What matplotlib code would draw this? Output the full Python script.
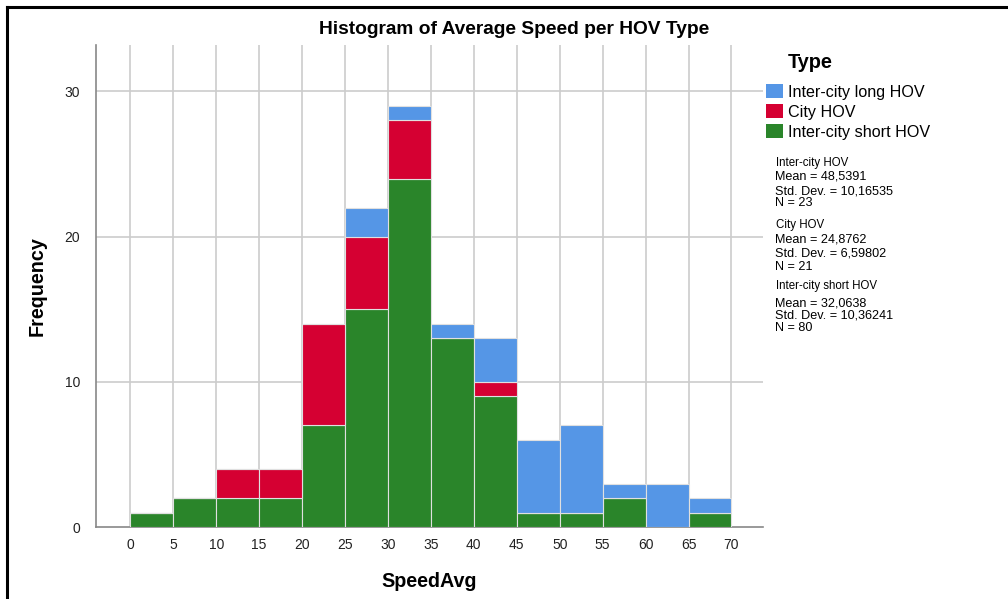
import numpy as np
import matplotlib.pyplot as plt
from matplotlib.lines import Line2D
from matplotlib.patches import Patch

plt.rcParams['font.family'] = ['Liberation Sans', 'DejaVu Sans']

# histogram bins (SpeedAvg, width 5)
bin_edges = [0, 5, 10, 15, 20, 25, 30, 35, 40, 45, 50, 55, 60, 65]
short_hov = [1, 2, 2, 2, 7, 15, 24, 13, 9, 1, 1, 2, 0, 1]
city_hov = [0, 0, 2, 2, 7, 5, 4, 0, 1, 0, 0, 0, 0, 0]
long_hov = [0, 0, 0, 0, 0, 2, 1, 1, 3, 5, 6, 1, 3, 1]
xticks = list(range(0, 75, 5))

stats_long = ["Inter-city HOV", "Mean = 48,5391", "Std. Dev. = 10,16535", "N = 23"]
stats_city = ["City HOV", "Mean = 24,8762", "Std. Dev. = 6,59802", "N = 21"]
stats_short = ["Inter-city short HOV", "Mean = 32,0638", "Std. Dev. = 10,36241", "N = 80"]

c_long = '#5596E6'
c_city = '#D50032'
c_short = '#2A852A'

fig = plt.figure(figsize=(10.08, 5.99), dpi=100)
ax = fig.add_axes([0.0952, 0.120, 0.662, 0.805])

short_arr = np.array(short_hov)
city_arr = np.array(city_hov)
long_arr = np.array(long_hov)

ax.bar(bin_edges, short_arr, width=5, align='edge', color=c_short, edgecolor='#e0e0e0', linewidth=0.8, zorder=3)
ax.bar(bin_edges, city_arr, width=5, align='edge', bottom=short_arr, color=c_city, edgecolor='#e0e0e0', linewidth=0.8, zorder=3)
ax.bar(bin_edges, long_arr, width=5, align='edge', bottom=short_arr + city_arr, color=c_long, edgecolor='#e0e0e0', linewidth=0.8, zorder=3)

ax.set_xlim(-4, 73.7)
ax.set_ylim(0, 33.2)
ax.set_xticks(xticks)
ax.set_yticks([0, 10, 20, 30])
ax.tick_params(length=0, labelsize=10, labelcolor='#222222')
ax.tick_params(axis='y', pad=11.5)
ax.tick_params(axis='x', pad=8)

for x in xticks:
	ax.axvline(x, color='#cccccc', linewidth=1.2, zorder=1)
for y in [10, 20, 30]:
	ax.axhline(y, color='#cccccc', linewidth=1.2, zorder=1)

for s in ['top', 'right']:
	ax.spines[s].set_visible(False)
for s in ['left', 'bottom']:
	ax.spines[s].set_color('#888888')
	ax.spines[s].set_linewidth(1.2)

ax.set_xlabel("SpeedAvg", fontsize=14.2, fontweight='bold', labelpad=14)
ax.set_ylabel("Frequency", fontsize=14.2, fontweight='bold', labelpad=13)

fig.text(514 / 1008, 1 - 30 / 599, "Histogram of Average Speed per HOV Type", ha='center', va='center',
	fontsize=13.8, fontweight='bold')

# legend
fig.text(788 / 1008, 1 - 63 / 599, "Type", ha='left', va='center', fontsize=14.3, fontweight='bold')
handles = [Patch(facecolor=c_long), Patch(facecolor=c_city), Patch(facecolor=c_short)]
labels = ["Inter-city long HOV", "City HOV", "Inter-city short HOV"]
fig.legend(handles, labels, loc='upper left', bbox_to_anchor=(760 / 1008, 1 - 78 / 599), frameon=False,
	fontsize=11.6, handlelength=1.0, handleheight=0.95, handletextpad=0.35, labelspacing=0.28, borderaxespad=0)

# stats blocks: header row, then Mean / Std. Dev. / N
blocks = [(163, [177, 191, 203], stats_long),
	(225, [240, 253, 267], stats_city),
	(286, [304, 316, 328], stats_short)]
for y0, rows, block in blocks:
	fig.text(776 / 1008, 1 - y0 / 599, block[0], ha='left', va='center', fontsize=8.3)
	for yy, line in zip(rows, block[1:]):
		fig.text(775 / 1008, 1 - yy / 599, line, ha='left', va='center', fontsize=9.1)

# frame lines (top and left)
fig.add_artist(Line2D([7 / 1008, 7 / 1008], [0, 1 - 7 / 599], color='black', linewidth=2.2))
fig.add_artist(Line2D([7 / 1008, 1], [1 - 7 / 599, 1 - 7 / 599], color='black', linewidth=2.2))

fig.savefig("out.png", dpi=100)
